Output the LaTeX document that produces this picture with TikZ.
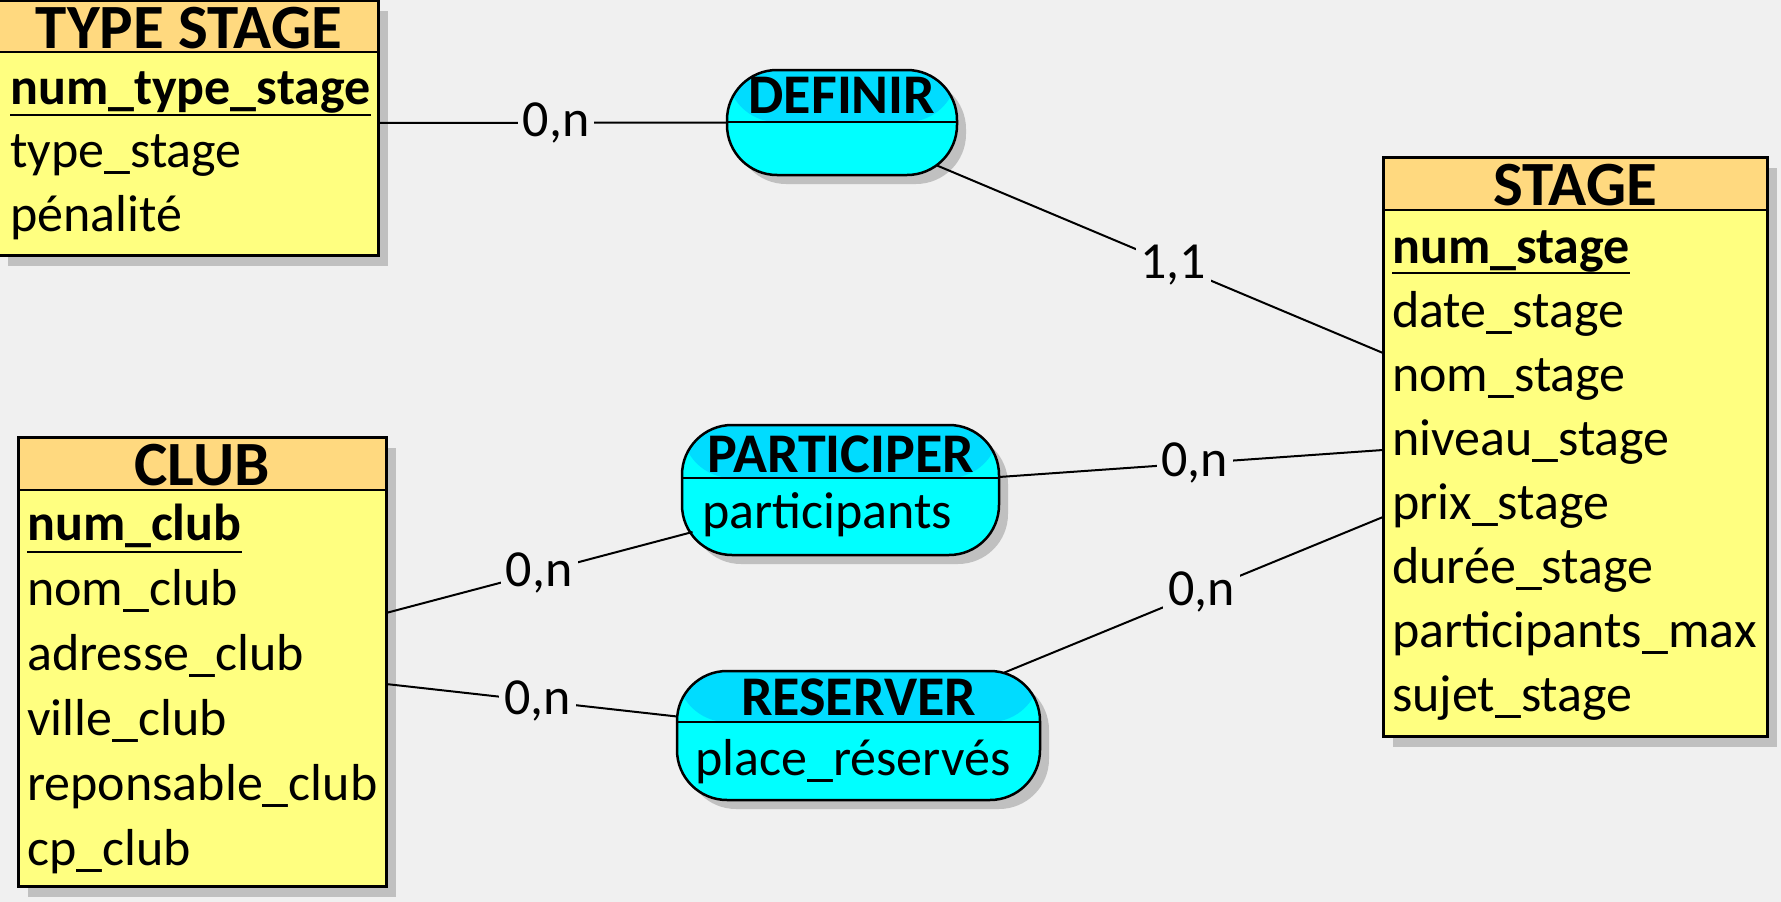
\documentclass[tikz,border=0pt]{standalone}
\usepackage{fontspec}
\setmainfont{Carlito}
\usetikzlibrary{shadows}
\definecolor{bg}{HTML}{F0F0F0}
\definecolor{enthead}{HTML}{FFD97F}
\definecolor{entbody}{HTML}{FFFF80}
\definecolor{relhead}{HTML}{00DCFF}
\definecolor{relbody}{HTML}{00FFFF}
\definecolor{shade}{HTML}{C0C0C0}
\begin{document}
\begin{tikzpicture}[x=1pt,y=-1pt,
  entity/.style={draw=black, line width=3pt, fill=entbody, anchor=north west,
    inner sep=0pt, outer sep=0pt,
    drop shadow={shadow xshift=10pt,shadow yshift=-11pt,fill=shade,opacity=1},
    path picture={\fill[enthead] (path picture bounding box.north west) rectangle ([yshift=-#1]path picture bounding box.north east);
      \draw[line width=2.5pt] ([yshift=-#1]path picture bounding box.north west) -- ([yshift=-#1]path picture bounding box.north east);}},
  relation/.style={draw=black, line width=2.5pt, fill=relbody, anchor=north west,
    inner sep=0pt, outer sep=0pt, rounded corners=50pt,
    drop shadow={shadow xshift=9pt,shadow yshift=-9pt,fill=shade,opacity=1},
    path picture={\fill[relhead] (path picture bounding box.north west) rectangle ([yshift=-#1]path picture bounding box.north east);
      \draw[line width=2.5pt] ([yshift=-#1]path picture bounding box.north west) -- ([yshift=-#1]path picture bounding box.north east);}},
  etitle/.style={anchor=base, inner sep=0pt, font=\fontsize{63pt}{75pt}\selectfont\bfseries},
  rtitle/.style={anchor=base, inner sep=0pt, font=\fontsize{56pt}{67pt}\selectfont\bfseries},
  attr/.style={anchor=base west, inner sep=0pt, font=\fontsize{52pt}{62pt}\selectfont},
  keyattr/.style={anchor=base west, inner sep=0pt, font=\fontsize{52pt}{62pt}\selectfont\bfseries},
  uline/.style={line width=2.5pt},
  conn/.style={line width=2pt, draw=black},
  card/.style={fill=bg, inner xsep=5pt, inner ysep=2pt, font=\fontsize{52pt}{62pt}\selectfont}
]
\useasboundingbox (0,0) rectangle (1781,902);
\fill[bg] (0,0) rectangle (1781,902);

% Entities
\node[entity=52pt, minimum width=380pt, minimum height=255pt] (ts) at (-2,0) {};
\node[entity=53pt, minimum width=384pt, minimum height=579pt] (stage) at (1383,157) {};
\node[entity=53pt, minimum width=368pt, minimum height=449pt] (club) at (18,437) {};

% Relations
\node[relation=52pt, minimum width=230pt, minimum height=105pt] (definir) at (727,70) {};
\node[relation=53pt, minimum width=317pt, minimum height=130pt] (participer) at (682,425) {};
\node[relation=51pt, minimum width=363pt, minimum height=129pt] (reserver) at (677,671) {};

% Connectors
\draw[conn] ([yshift=-123pt]ts.north east) -- node[card,pos=0.51] (c1) {0,n} (definir.west);
\draw[conn] ([xshift=95pt,yshift=-43pt]definir.center) -- node[card,pos=0.53] (c2) {1,1} ([yshift=-196pt]stage.north west);
\draw[conn] ([yshift=13pt]participer.east) -- node[card,pos=0.51] (c3) {0,n} ([yshift=-293pt]stage.north west);
\draw[conn] ([yshift=-176pt]club.north east) -- node[card,pos=0.5] (c4) {0,n} ([xshift=-148pt,yshift=-42pt]participer.center);
\draw[conn] ([yshift=-247pt]club.north east) -- node[card,pos=0.52] (c5) {0,n} ([yshift=19pt]reserver.west);
\draw[conn] ([xshift=146pt,yshift=63pt]reserver.center) -- node[card,pos=0.52] (c6) {0,n} ([yshift=-360pt]stage.north west);

% TYPE STAGE texts
\node[etitle] (tsT) at (189,48) {TYPE STAGE};
\node[keyattr] (ts1) at (10,104) {num\_type\_stage};
\node[attr] (ts2) at (10,167) {type\_stage};
\node[attr] (ts3) at (10,231) {pénalité};
\draw[uline] ([yshift=-11pt]ts1.base west) -- ([yshift=-11pt]ts1.base east);

% STAGE texts
\node[etitle] (stT) at (1575,205) {STAGE};
\node[keyattr] (st1) at (1392,263) {num\_stage};
\node[attr] (st2) at (1392,327) {date\_stage};
\node[attr] (st3) at (1392,391) {nom\_stage};
\node[attr] (st4) at (1392,455) {niveau\_stage};
\node[attr] (st5) at (1392,519) {prix\_stage};
\node[attr] (st6) at (1392,583) {durée\_stage};
\node[attr] (st7) at (1392,647) {participants\_max};
\node[attr] (st8) at (1392,711) {sujet\_stage};
\draw[uline] ([yshift=-10pt]st1.base west) -- ([yshift=-10pt]st1.base east);

% CLUB texts
\node[etitle] (clT) at (202,485) {CLUB};
\node[keyattr] (cl1) at (27,540) {num\_club};
\node[attr] (cl2) at (27,605) {nom\_club};
\node[attr] (cl3) at (27,670) {adresse\_club};
\node[attr] (cl4) at (27,735) {ville\_club};
\node[attr] (cl5) at (27,800) {reponsable\_club};
\node[attr] (cl6) at (27,865) {cp\_club};
\draw[uline] ([yshift=-12pt]cl1.base west) -- ([yshift=-12pt]cl1.base east);

% Relation texts
\node[rtitle] (deT) at (842,113) {DEFINIR};
\node[rtitle] (paT) at (840.5,472) {PARTICIPER};
\node[attr] (pa1) at (702,528) {participants};
\node[rtitle] (reT) at (858.5,715) {RESERVER};
\node[attr] (re1) at (695,775) {place\_réservés};
\end{tikzpicture}
\end{document}
